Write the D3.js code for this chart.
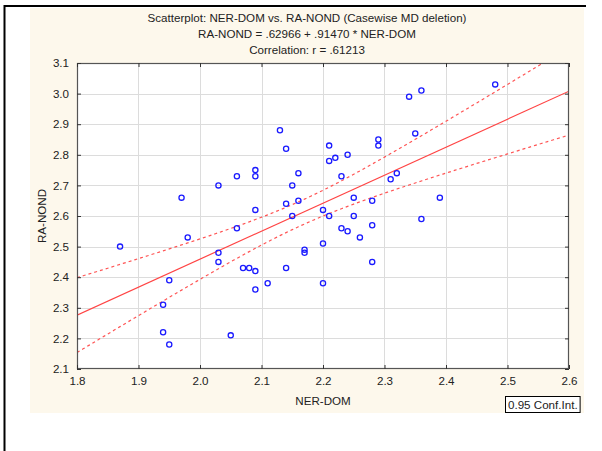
<!DOCTYPE html>
<html>
<head>
<meta charset="utf-8">
<script src="https://cdn.jsdelivr.net/npm/d3@7"></script>
<style>
  html, body { margin: 0; padding: 0; background: #ffffff; }
  svg { display: block; }
  text { font-family: "Liberation Sans", Arial, sans-serif; fill: #222; }
</style>
</head>
<body>
<svg id="chart" width="602" height="451"></svg>
<script>
// ---- data ----
const nerDom = [1.87, 1.94, 1.94, 1.95, 1.95, 1.97, 1.98, 2.03, 2.03, 2.03,
                2.05, 2.06, 2.06, 2.07, 2.08, 2.09, 2.09, 2.09, 2.09, 2.09,
                2.11, 2.13, 2.14, 2.14, 2.14, 2.15, 2.15, 2.16, 2.16, 2.17,
                2.17, 2.20, 2.20, 2.20, 2.21, 2.21, 2.21, 2.22, 2.23, 2.23,
                2.24, 2.24, 2.25, 2.25, 2.26, 2.28, 2.28, 2.28, 2.29, 2.29,
                2.31, 2.32, 2.34, 2.35, 2.36, 2.36, 2.39, 2.48];
const raNond = [2.50, 2.22, 2.31, 2.18, 2.39, 2.66, 2.53, 2.70, 2.48, 2.45,
                2.21, 2.73, 2.56, 2.43, 2.43, 2.75, 2.73, 2.62, 2.42, 2.36,
                2.38, 2.88, 2.82, 2.64, 2.43, 2.70, 2.60, 2.74, 2.65, 2.49,
                2.48, 2.62, 2.51, 2.38, 2.83, 2.78, 2.60, 2.79, 2.73, 2.56,
                2.80, 2.55, 2.66, 2.60, 2.53, 2.65, 2.57, 2.45, 2.85, 2.83,
                2.72, 2.74, 2.99, 2.87, 3.01, 2.59, 2.66, 3.03];
const xTicks = [1.8, 1.9, 2.0, 2.1, 2.2, 2.3, 2.4, 2.5, 2.6];
const yTicks = [2.1, 2.2, 2.3, 2.4, 2.5, 2.6, 2.7, 2.8, 2.9, 3.0, 3.1];
const intercept = 0.62966;
const slope = 0.91470;
const titleLines = [
  "Scatterplot: NER-DOM vs. RA-NOND (Casewise MD deletion)",
  "RA-NOND = .62966 + .91470 * NER-DOM",
  "Correlation: r = .61213"
];
const xTitle = "NER-DOM";
const yTitle = "RA-NOND";
const legendText = "0.95 Conf.Int.";

// ---- layout ----
const svg = d3.select("#chart");
const L = 77, R = 569, T = 63, B = 369;
const FS = 11.6;
const x = d3.scaleLinear().domain([1.8, 2.6]).range([L, R]);
const y = d3.scaleLinear().domain([2.1, 3.1]).range([B, T]);

// outer frame
svg.append("rect").attr("x", 30).attr("y", 8).attr("width", 554).attr("height", 405)
  .attr("fill", "#fdf8ec");
svg.append("line").attr("x1", 4.5).attr("x2", 4.5).attr("y1", 5).attr("y2", 451)
  .attr("stroke", "#000").attr("stroke-width", 2);
svg.append("line").attr("x1", 4).attr("x2", 586).attr("y1", 6).attr("y2", 6)
  .attr("stroke", "#000").attr("stroke-width", 2);

// plot background
svg.append("rect").attr("x", L).attr("y", T).attr("width", R - L).attr("height", B - T)
  .attr("fill", "#ffffff");

// grid
const g = svg.append("g");
g.selectAll(".gx").data(xTicks.slice(1, -1)).enter().append("line")
  .attr("x1", d => Math.round(x(d)) + 0.5).attr("x2", d => Math.round(x(d)) + 0.5)
  .attr("y1", T).attr("y2", B).attr("stroke", "#dcdcdc").attr("stroke-width", 1);
g.selectAll(".gy").data(yTicks.slice(1, -1)).enter().append("line")
  .attr("y1", d => Math.round(y(d)) + 0.5).attr("y2", d => Math.round(y(d)) + 0.5)
  .attr("x1", L).attr("x2", R).attr("stroke", "#dcdcdc").attr("stroke-width", 1);

// regression + confidence bands
const n = nerDom.length;
const xbar = d3.mean(nerDom);
const Sxx = d3.sum(nerDom, v => (v - xbar) * (v - xbar));
const sse = d3.sum(nerDom.map((v, i) => Math.pow(raNond[i] - (intercept + slope * v), 2)));
const s = Math.sqrt(sse / (n - 2));
const tCrit = 2.003;
const half = v => tCrit * s * Math.sqrt(1 / n + (v - xbar) * (v - xbar) / Sxx);
const xs = d3.range(0, 161).map(i => 1.8 + i * 0.005);

svg.append("clipPath").attr("id", "clip").append("rect")
  .attr("x", L).attr("y", T).attr("width", R - L).attr("height", B - T);
const lines = svg.append("g").attr("clip-path", "url(#clip)");
const lineGen = d3.line().x(d => x(d[0])).y(d => y(d[1]));
lines.append("path").datum(xs.map(v => [v, intercept + slope * v + half(v)]))
  .attr("d", lineGen).attr("fill", "none").attr("stroke", "#ff5555")
  .attr("stroke-width", 1.2).attr("stroke-dasharray", "3,3");
lines.append("path").datum(xs.map(v => [v, intercept + slope * v - half(v)]))
  .attr("d", lineGen).attr("fill", "none").attr("stroke", "#ff5555")
  .attr("stroke-width", 1.2).attr("stroke-dasharray", "3,3");
lines.append("path").datum([[1.8, intercept + slope * 1.8], [2.6, intercept + slope * 2.6]])
  .attr("d", lineGen).attr("fill", "none").attr("stroke", "#ff4444").attr("stroke-width", 1.2);

// points
svg.append("g").selectAll("circle").data(nerDom).enter().append("circle")
  .attr("cx", (d) => x(d)).attr("cy", (d, i) => y(raNond[i])).attr("r", 2.6)
  .attr("fill", "none").attr("stroke", "#1a1aff").attr("stroke-width", 1.3);

// frame and inner ticks
svg.append("rect").attr("x", L + 0.5).attr("y", T + 0.5).attr("width", R - L - 1).attr("height", B - T - 1)
  .attr("fill", "none").attr("stroke", "#555").attr("stroke-width", 1.2);
const axB = d3.axisBottom(x).tickValues(xTicks).tickFormat(d3.format(".1f")).tickSizeInner(-4).tickSizeOuter(0).tickPadding(8);
const axL = d3.axisLeft(y).tickValues(yTicks).tickFormat(d3.format(".1f")).tickSizeInner(-4).tickSizeOuter(0).tickPadding(8);
const axT = d3.axisTop(x).tickValues(xTicks).tickFormat("").tickSizeInner(-4).tickSizeOuter(0);
const axR = d3.axisRight(y).tickValues(yTicks).tickFormat("").tickSizeInner(-4).tickSizeOuter(0);
function styleAxis(sel) {
  sel.select(".domain").remove();
  sel.selectAll(".tick line").attr("stroke", "#333");
  sel.selectAll(".tick text").attr("font-size", FS).attr("fill", "#222")
    .attr("font-family", "'Liberation Sans', Arial, sans-serif");
}
svg.append("g").attr("transform", `translate(0,${B})`).call(axB).call(styleAxis);
svg.append("g").attr("transform", `translate(${L},0)`).call(axL).call(styleAxis);
svg.append("g").attr("transform", `translate(0,${T})`).call(axT).call(styleAxis);
svg.append("g").attr("transform", `translate(${R},0)`).call(axR).call(styleAxis);

// titles
svg.append("g").selectAll("text").data(titleLines).enter().append("text")
  .attr("x", 307).attr("y", (d, i) => 22 + i * 16).attr("text-anchor", "middle")
  .attr("font-size", FS).text(d => d);
svg.append("text").attr("x", (L + R) / 2).attr("y", 405).attr("text-anchor", "middle")
  .attr("font-size", FS).text(xTitle);
svg.append("text").attr("transform", `translate(46,${(T + B) / 2}) rotate(-90)`)
  .attr("text-anchor", "middle").attr("font-size", FS).text(yTitle);

// legend
const lg = svg.append("g");
const lt = lg.append("text").attr("x", 508).attr("y", 409).attr("font-size", FS).text(legendText);
const bb = lt.node().getBBox();
lg.insert("rect", "text").attr("x", 505.5).attr("y", 396.5).attr("width", bb.width + 5).attr("height", 16)
  .attr("fill", "#fff").attr("stroke", "#000").attr("stroke-width", 1);
</script>
</body>
</html>
